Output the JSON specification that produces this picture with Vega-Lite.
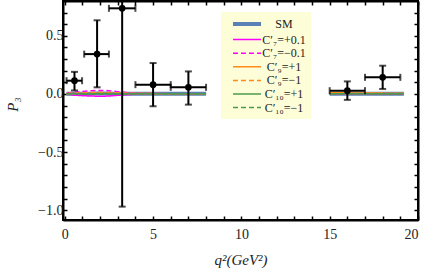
{
  "$schema": "https://vega.github.io/schema/vega-lite/v6.json",
  "width": 355,
  "height": 219,
  "autosize": "none",
  "padding": {"left": 63, "top": 1, "right": 9, "bottom": 54},
  "background": "white",
  "config": {
    "view": {"stroke": "black", "strokeWidth": 2},
    "axis": {
      "labelFont": "Liberation Serif",
      "labelFontSize": 14,
      "labelColor": "#222",
      "titleFont": "Liberation Serif",
      "titleFontSize": 15,
      "titleFontWeight": "normal",
      "titleFontStyle": "italic",
      "titleColor": "#222",
      "domainColor": "black",
      "domainWidth": 2,
      "tickColor": "black",
      "tickWidth": 1.5,
      "grid": false
    },
    "legend": {
      "labelFont": "Liberation Serif",
      "labelFontSize": 12,
      "labelColor": "#222"
    }
  },
  "datasets": {
    "pts": [
      {"x": 0.55, "xlo": 0.1, "xhi": 0.98, "y": 0.114, "ylo": 0.03, "yhi": 0.19},
      {"x": 1.83, "xlo": 1.1, "xhi": 2.5, "y": 0.343, "ylo": 0.057, "yhi": 0.634},
      {"x": 3.25, "xlo": 2.5, "xhi": 4.0, "y": 0.737, "ylo": -0.97, "yhi": 1.0},
      {"x": 5.0, "xlo": 4.0, "xhi": 6.0, "y": 0.08, "ylo": -0.106, "yhi": 0.266},
      {"x": 7.0, "xlo": 6.0, "xhi": 8.0, "y": 0.057, "ylo": -0.092, "yhi": 0.194},
      {"x": 16.0, "xlo": 15.0, "xhi": 17.0, "y": 0.028, "ylo": -0.051, "yhi": 0.108},
      {"x": 18.0, "xlo": 17.0, "xhi": 19.0, "y": 0.143, "ylo": 0.043, "yhi": 0.243}
    ],
    "curves": [
      {"s": "SM", "seg": "a", "x": 0.1, "y": 0.002}, {"s": "SM", "seg": "a", "x": 2, "y": 0.003}, {"s": "SM", "seg": "a", "x": 4, "y": 0.002}, {"s": "SM", "seg": "a", "x": 8, "y": 0.001},
      {"s": "SM", "seg": "b", "x": 15, "y": 0.002}, {"s": "SM", "seg": "b", "x": 19.2, "y": 0.001},

      {"s": "C′₇=+0.1", "seg": "a", "x": 0.1, "y": 0.0}, {"s": "C′₇=+0.1", "seg": "a", "x": 0.5, "y": -0.01}, {"s": "C′₇=+0.1", "seg": "a", "x": 1, "y": -0.015}, {"s": "C′₇=+0.1", "seg": "a", "x": 1.5, "y": -0.018}, {"s": "C′₇=+0.1", "seg": "a", "x": 2, "y": -0.02}, {"s": "C′₇=+0.1", "seg": "a", "x": 2.5, "y": -0.018}, {"s": "C′₇=+0.1", "seg": "a", "x": 3, "y": -0.012}, {"s": "C′₇=+0.1", "seg": "a", "x": 3.5, "y": -0.006}, {"s": "C′₇=+0.1", "seg": "a", "x": 4, "y": -0.003}, {"s": "C′₇=+0.1", "seg": "a", "x": 5, "y": -0.002}, {"s": "C′₇=+0.1", "seg": "a", "x": 8, "y": -0.001},
      {"s": "C′₇=+0.1", "seg": "b", "x": 15, "y": 0.0}, {"s": "C′₇=+0.1", "seg": "b", "x": 19.2, "y": 0.0},

      {"s": "C′₇=−0.1", "seg": "a", "x": 0.1, "y": 0.005}, {"s": "C′₇=−0.1", "seg": "a", "x": 0.5, "y": 0.015}, {"s": "C′₇=−0.1", "seg": "a", "x": 1, "y": 0.022}, {"s": "C′₇=−0.1", "seg": "a", "x": 1.5, "y": 0.028}, {"s": "C′₇=−0.1", "seg": "a", "x": 2, "y": 0.03}, {"s": "C′₇=−0.1", "seg": "a", "x": 2.5, "y": 0.028}, {"s": "C′₇=−0.1", "seg": "a", "x": 3, "y": 0.02}, {"s": "C′₇=−0.1", "seg": "a", "x": 3.5, "y": 0.012}, {"s": "C′₇=−0.1", "seg": "a", "x": 4, "y": 0.006}, {"s": "C′₇=−0.1", "seg": "a", "x": 5, "y": 0.003}, {"s": "C′₇=−0.1", "seg": "a", "x": 8, "y": 0.002},
      {"s": "C′₇=−0.1", "seg": "b", "x": 15, "y": 0.002}, {"s": "C′₇=−0.1", "seg": "b", "x": 19.2, "y": 0.001},

      {"s": "C′₉=+1", "seg": "a", "x": 0.1, "y": 0.002}, {"s": "C′₉=+1", "seg": "a", "x": 1, "y": 0.006}, {"s": "C′₉=+1", "seg": "a", "x": 2, "y": 0.008}, {"s": "C′₉=+1", "seg": "a", "x": 3, "y": 0.006}, {"s": "C′₉=+1", "seg": "a", "x": 4, "y": 0.003}, {"s": "C′₉=+1", "seg": "a", "x": 8, "y": 0.002},
      {"s": "C′₉=+1", "seg": "b", "x": 15, "y": 0.01}, {"s": "C′₉=+1", "seg": "b", "x": 17, "y": 0.008}, {"s": "C′₉=+1", "seg": "b", "x": 19.2, "y": 0.006},

      {"s": "C′₉=−1", "seg": "a", "x": 0.1, "y": 0.003}, {"s": "C′₉=−1", "seg": "a", "x": 1, "y": 0.01}, {"s": "C′₉=−1", "seg": "a", "x": 2, "y": 0.014}, {"s": "C′₉=−1", "seg": "a", "x": 3, "y": 0.01}, {"s": "C′₉=−1", "seg": "a", "x": 4, "y": 0.004}, {"s": "C′₉=−1", "seg": "a", "x": 8, "y": 0.001},
      {"s": "C′₉=−1", "seg": "b", "x": 15, "y": 0.004}, {"s": "C′₉=−1", "seg": "b", "x": 19.2, "y": 0.002},

      {"s": "C′₁₀=+1", "seg": "a", "x": 0.1, "y": 0.001}, {"s": "C′₁₀=+1", "seg": "a", "x": 2, "y": 0.003}, {"s": "C′₁₀=+1", "seg": "a", "x": 8, "y": 0.001},
      {"s": "C′₁₀=+1", "seg": "b", "x": 15, "y": 0.001}, {"s": "C′₁₀=+1", "seg": "b", "x": 19.2, "y": 0.001},

      {"s": "C′₁₀=−1", "seg": "a", "x": 0.1, "y": 0.0}, {"s": "C′₁₀=−1", "seg": "a", "x": 2, "y": -0.002}, {"s": "C′₁₀=−1", "seg": "a", "x": 8, "y": 0.0},
      {"s": "C′₁₀=−1", "seg": "b", "x": 15, "y": 0.0}, {"s": "C′₁₀=−1", "seg": "b", "x": 19.2, "y": 0.0}
    ]
  },
  "resolve": {"axis": {"x": "independent", "y": "independent"}},
  "layer": [
    {
      "data": {"name": "curves"},
      "mark": {"type": "line", "clip": true},
      "encoding": {
        "x": {"field": "x", "type": "quantitative", "scale": {"domain": [-0.1, 20], "nice": false, "zero": false},
          "axis": {"orient": "top", "values": [0,1,2,3,4,5,6,7,8,9,10,11,12,13,14,15,16,17,18,19,20], "labels": false, "title": null, "tickSize": -4}},
        "y": {"field": "y", "type": "quantitative", "scale": {"domain": [-1.085, 0.8], "nice": false, "zero": false},
          "axis": {"orient": "right", "values": [-1,-0.9,-0.8,-0.7,-0.6,-0.5,-0.4,-0.3,-0.2,-0.1,0,0.1,0.2,0.3,0.4,0.5,0.6,0.7], "labels": false, "title": null, "tickSize": -4}},
        "detail": {"field": "seg"},
        "color": {"field": "s", "type": "nominal",
          "scale": {"domain": ["SM", "C′₇=+0.1", "C′₇=−0.1", "C′₉=+1", "C′₉=−1", "C′₁₀=+1", "C′₁₀=−1"],
            "range": ["#5b7fb6", "#ff00ff", "#ff00ff", "#ff8c1a", "#ff8c1a", "#4c9a4c", "#4c9a4c"]},
          "legend": {"title": null, "orient": "none", "legendX": 158, "legendY": 11, "symbolType": "M-2.8,0H2.8", "symbolSize": 100,
            "fillColor": "#fdfdd8", "padding": 5, "rowPadding": 1.6, "symbolOffset": 14, "labelOffset": 30, "labelAlign": "center", "labelFontSize": 12, "labelLimit": 0}},
        "strokeDash": {"field": "s", "type": "nominal",
          "scale": {"domain": ["SM", "C′₇=+0.1", "C′₇=−0.1", "C′₉=+1", "C′₉=−1", "C′₁₀=+1", "C′₁₀=−1"],
            "range": [[1,0],[1,0],[5,3],[1,0],[5,3],[1,0],[5,3]]}},
        "strokeWidth": {"field": "s", "type": "nominal",
          "scale": {"type": "ordinal", "domain": ["SM", "C′₇=+0.1", "C′₇=−0.1", "C′₉=+1", "C′₉=−1", "C′₁₀=+1", "C′₁₀=−1"],
            "range": [4, 1.5, 1.5, 1.5, 1.5, 1.5, 1.5]}}
      }
    },
    {
      "mark": {"type": "rule", "color": "#555", "strokeWidth": 1},
      "encoding": {"y": {"datum": 0, "type": "quantitative", "axis": null}}
    },
    {
      "data": {"name": "pts"},
      "mark": {"type": "errorbar", "ticks": {"size": 7, "thickness": 2, "color": "black"}, "rule": {"strokeWidth": 2, "color": "black"}, "clip": true},
      "encoding": {
        "y": {"field": "y", "type": "quantitative", "axis": null},
        "x": {"field": "xlo", "type": "quantitative", "axis": null},
        "x2": {"field": "xhi"}
      }
    },
    {
      "data": {"name": "pts"},
      "mark": {"type": "errorbar", "ticks": {"size": 7, "thickness": 2, "color": "black"}, "rule": {"strokeWidth": 2, "color": "black"}, "clip": true},
      "encoding": {
        "x": {"field": "x", "type": "quantitative", "axis": null},
        "y": {"field": "ylo", "type": "quantitative", "axis": null},
        "y2": {"field": "yhi"}
      }
    },
    {
      "data": {"name": "pts"},
      "mark": {"type": "point", "filled": true, "color": "black", "opacity": 1, "size": 45},
      "encoding": {
        "x": {"field": "x", "type": "quantitative",
          "axis": {"orient": "bottom", "values": [0,1,2,3,4,5,6,7,8,9,10,11,12,13,14,15,16,17,18,19,20], "labelExpr": "datum.value % 5 === 0 ? datum.label : ''", "title": "q²(GeV²)", "tickSize": -4, "labelPadding": 11, "titleY": 44, "titleBaseline": "alphabetic"}},
        "y": {"field": "y", "type": "quantitative",
          "axis": {"orient": "left", "values": [-1,-0.9,-0.8,-0.7,-0.6,-0.5,-0.4,-0.3,-0.2,-0.1,0,0.1,0.2,0.3,0.4,0.5,0.6,0.7], "labelExpr": "abs(datum.value * 2 - round(datum.value * 2)) < 0.001 ? format(datum.value, '.1f') : ''", "title": "P₃", "tickSize": -4, "labelPadding": 4, "titleX": -51, "titleY": 103, "titleBaseline": "middle"}}
      }
    }
  ]
}
